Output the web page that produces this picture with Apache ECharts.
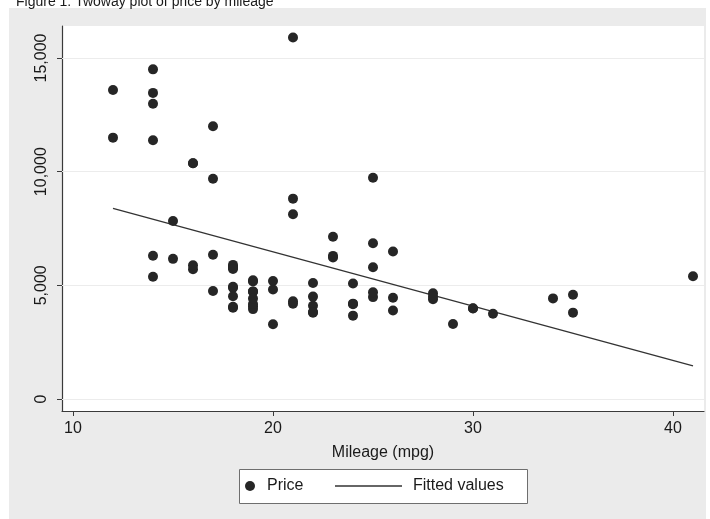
<!DOCTYPE html>
<html>
<head>
<meta charset="utf-8">
<script src="https://cdn.jsdelivr.net/npm/echarts@6/dist/echarts.min.js"></script>
<style>html,body{margin:0;padding:0;background:#fff}#c{width:710px;height:519px}</style>
</head>
<body>
<div id="c"></div>
<script>
// Mileage (mpg) and Price for each car
const mpg = [22,17,22,20,15,18,26,20,16,19,14,14,21,29,16,22,22,24,19,30,18,16,17,28,21,12,12,14,22,14,15,18,14,20,21,19,19,18,19,24,16,28,34,25,26,18,18,18,19,19,19,24,17,23,25,23,35,24,21,21,25,28,30,14,26,35,18,31,18,23,41,25,25,17];
const price = [4099,4749,3799,4816,7827,5788,4453,5189,10372,4082,11385,14500,15906,3299,5705,4504,5104,3667,3955,3984,4010,5886,6342,4389,4187,11497,13594,13466,3829,5379,6165,4516,6303,3291,8814,5172,4733,4890,4181,4195,10371,4647,4425,4482,6486,4060,5798,4934,5222,4723,4424,4172,9690,6295,9735,6229,4589,5079,8129,4296,5799,4499,3995,12990,3895,3798,5899,3748,5719,7140,5397,4697,6850,11995];
// Fitted line end points
const fitX = [12, 41];
const fitY = [8386, 1459];
const xTicks = [10, 20, 30, 40];
const yTicks = [0, 5000, 10000, 15000];

const FONT = 'Liberation Sans, Arial, Helvetica, sans-serif';
const chart = echarts.init(document.getElementById('c'), null, {renderer: 'canvas'});
const fmt = v => v.toLocaleString('en-US');

chart.setOption({
  animation: false,
  backgroundColor: '#fff',
  title: {
    text: 'Figure 1: Twoway plot of price by mileage',
    left: 11, top: -10,
    textStyle: {fontSize: 14, fontWeight: 'normal', color: '#1a1a1a', fontFamily: FONT}
  },
  graphic: [
    {type: 'rect', z: -10, shape: {x: 9, y: 8, width: 697, height: 511}, style: {fill: '#ebebeb'}, silent: true},
    {type: 'rect', z: 1, shape: {x: 239.5, y: 469.5, width: 288, height: 34}, style: {fill: '#fff', stroke: '#6e6e6e', lineWidth: 1}, silent: true}
  ],
  grid: {left: 62, top: 26, right: 6, bottom: 108, show: true, backgroundColor: '#fff', borderWidth: 0},
  xAxis: {
    type: 'value', min: 9.45, max: 41.55,
    name: 'Mileage (mpg)', nameLocation: 'middle', nameGap: 34,
    nameTextStyle: {fontSize: 16, color: '#1a1a1a', fontFamily: FONT},
    axisLine: {show: true, onZero: false, lineStyle: {color: '#3a3a3a', width: 1.2}},
    axisTick: {show: true, length: 5, customValues: xTicks, lineStyle: {color: '#3a3a3a'}},
    axisLabel: {customValues: xTicks, fontSize: 16, color: '#1a1a1a', fontFamily: FONT, margin: 10},
    splitLine: {show: false}
  },
  yAxis: {
    type: 'value', min: -528, max: 16408,
    axisLine: {show: true, onZero: false, lineStyle: {color: '#3a3a3a', width: 1.2}},
    axisTick: {show: true, length: 5, customValues: yTicks, lineStyle: {color: '#3a3a3a'}},
    axisLabel: {customValues: yTicks, rotate: 90, fontSize: 16, color: '#1a1a1a', fontFamily: FONT, margin: 12, formatter: fmt},
    splitLine: {show: false}
  },
  legend: [
    {data: [{name: 'Price', icon: 'circle'}], left: 245, top: 478, padding: 0, itemWidth: 10, itemHeight: 10,
     textStyle: {fontSize: 16, color: '#1a1a1a', fontFamily: FONT, padding: [0, 0, 0, 7]}, selectedMode: false},
    {data: [{name: 'Fitted values', icon: 'rect'}], left: 335, top: 478, padding: 0, itemWidth: 67, itemHeight: 1.3,
     textStyle: {fontSize: 16, color: '#1a1a1a', fontFamily: FONT, padding: [0, 0, 0, 6]}, selectedMode: false}
  ],
  series: [
    {
      name: 'Price', type: 'scatter', symbol: 'circle', symbolSize: 10,
      itemStyle: {color: '#262626', opacity: 1},
      data: mpg.map((m, i) => [m, price[i]]),
      z: 3,
      markLine: {
        silent: true, symbol: 'none', label: {show: false},
        lineStyle: {color: '#ececec', width: 1, type: 'solid'},
        data: yTicks.map(v => ({yAxis: v})),
        z: 1
      }
    },
    {
      name: 'Fitted values', type: 'line', symbol: 'none', showSymbol: false,
      lineStyle: {color: '#333', width: 1.3},
      itemStyle: {color: '#333'},
      data: fitX.map((x, i) => [x, fitY[i]]),
      z: 2
    }
  ]
});
</script>
</body>
</html>
